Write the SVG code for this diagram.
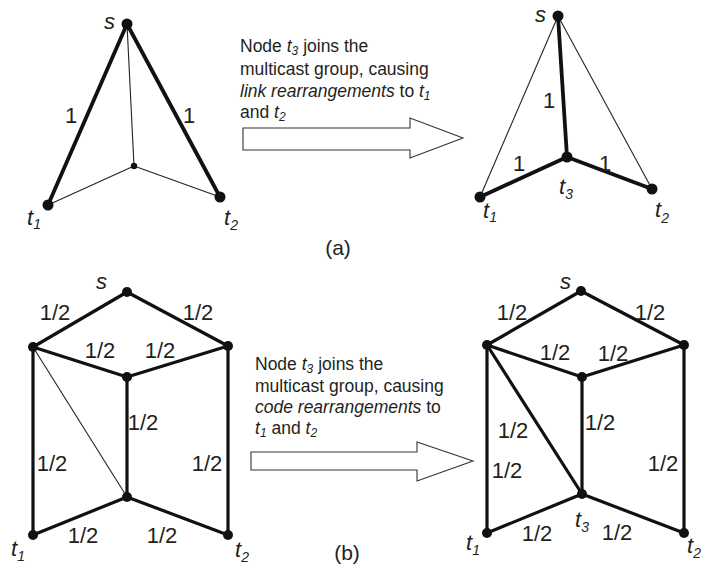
<svg xmlns="http://www.w3.org/2000/svg" width="703" height="566" viewBox="0 0 703 566">
<style>
text{font-family:"Liberation Sans",Arial,sans-serif;fill:#231f20}
.w{font-size:22px;text-anchor:middle}
.w1{font-size:22px;text-anchor:middle}
.n{font-size:22px;font-style:italic}
.sub{font-size:14px;font-style:italic}
.cap{font-size:17.5px}
.csub{font-size:12px;font-style:italic}
.thick{stroke:#111;stroke-width:3.8;fill:none;stroke-linecap:round}
.med{stroke:#111;stroke-width:3.2;fill:none;stroke-linecap:round}
.thin{stroke:#222;stroke-width:1.1;fill:none}
.dot{fill:#111}
.arrow{fill:#fff;stroke:#333;stroke-width:1.1}
.fig{font-size:21px;text-anchor:middle}
</style>
<rect width="703" height="566" fill="#fff"/>

<!-- (a) left -->
<g id="a-left-edges">
<line class="thick" x1="127" y1="24" x2="48" y2="205"/>
<line class="thick" x1="127" y1="24" x2="220" y2="197"/>
<line class="thin" x1="127" y1="24" x2="134" y2="166"/>
<line class="thin" x1="48" y1="205" x2="134" y2="166"/>
<line class="thin" x1="220" y1="197" x2="134" y2="166"/>
<text class="w1" x="71" y="123">1</text>
<text class="w1" x="189" y="123">1</text>
</g>
<g id="a-left-s"><circle class="dot" cx="127" cy="24" r="5.5"/><text class="n" x="104" y="29">s</text></g>
<g id="a-left-t1"><circle class="dot" cx="48" cy="205" r="5.5"/><text class="n" x="27" y="225">t<tspan class="sub" dy="4">1</tspan></text></g>
<g id="a-left-t2"><circle class="dot" cx="220" cy="197" r="5.5"/><text class="n" x="224" y="225">t<tspan class="sub" dy="5">2</tspan></text></g>
<g id="a-left-c"><circle class="dot" cx="134" cy="166" r="3.2"/></g>

<!-- (a) arrow -->
<g id="a-arrow">
<polygon class="arrow" points="243,128 410,128 410,118 463,138 410,158 410,150 243,150"/>
<text class="cap" x="240" y="52">Node <tspan font-style="italic">t</tspan><tspan class="csub" dy="3">3</tspan><tspan dy="-3"> joins the</tspan></text>
<text class="cap" x="240" y="75">multicast group, causing</text>
<text class="cap" x="240" y="97"><tspan font-style="italic">link rearrangements</tspan> to <tspan font-style="italic">t</tspan><tspan class="csub" dy="3">1</tspan></text>
<text class="cap" x="240" y="118">and <tspan font-style="italic">t</tspan><tspan class="csub" dy="3">2</tspan></text>
</g>

<!-- (a) right -->
<g id="a-right-edges">
<line class="thin" x1="558" y1="16" x2="480" y2="197"/>
<line class="thin" x1="558" y1="16" x2="652" y2="189"/>
<line class="thick" x1="558" y1="16" x2="567" y2="157"/>
<line class="thick" x1="480" y1="197" x2="567" y2="157"/>
<line class="thick" x1="652" y1="189" x2="567" y2="157"/>
<text class="w" x="549" y="108">1</text>
<text class="w" x="519" y="171">1</text>
<text class="w" x="605" y="171">1</text>
</g>
<g id="a-right-s"><circle class="dot" cx="558" cy="16" r="5.5"/><text class="n" x="535" y="22">s</text></g>
<g id="a-right-t3"><circle class="dot" cx="567" cy="157" r="5.5"/><text class="n" x="559" y="194">t<tspan class="sub" dy="5">3</tspan></text></g>
<g id="a-right-t1"><circle class="dot" cx="480" cy="197" r="5.5"/><text class="n" x="483" y="218">t<tspan class="sub" dy="4">1</tspan></text></g>
<g id="a-right-t2"><circle class="dot" cx="652" cy="189" r="5.5"/><text class="n" x="655" y="217">t<tspan class="sub" dy="6">2</tspan></text></g>

<text class="fig" x="338" y="255">(a)</text>

<!-- (b) left -->
<g id="b-left-edges">
<line class="med" x1="127" y1="292" x2="33" y2="347"/>
<line class="med" x1="127" y1="292" x2="228" y2="346"/>
<line class="med" x1="33" y1="347" x2="127" y2="377"/>
<line class="med" x1="228" y1="346" x2="127" y2="377"/>
<line class="med" x1="33" y1="347" x2="33" y2="535"/>
<line class="thin" x1="33" y1="347" x2="127" y2="497"/>
<line class="med" x1="127" y1="377" x2="127" y2="497"/>
<line class="med" x1="228" y1="346" x2="228" y2="535"/>
<line class="med" x1="33" y1="535" x2="127" y2="497"/>
<line class="med" x1="228" y1="535" x2="127" y2="497"/>
<text class="w" x="55" y="320">1/2</text>
<text class="w" x="198" y="320">1/2</text>
<text class="w" x="100" y="358">1/2</text>
<text class="w" x="160" y="358">1/2</text>
<text class="w" x="143" y="430">1/2</text>
<text class="w" x="52" y="471">1/2</text>
<text class="w" x="207" y="471">1/2</text>
<text class="w" x="83" y="543">1/2</text>
<text class="w" x="162" y="543">1/2</text>
</g>
<g id="b-left-s"><circle class="dot" cx="127" cy="292" r="5"/><text class="n" x="96" y="289">s</text></g>
<g id="b-left-a"><circle class="dot" cx="33" cy="347" r="5"/></g>
<g id="b-left-b"><circle class="dot" cx="228" cy="346" r="5"/></g>
<g id="b-left-m"><circle class="dot" cx="127" cy="377" r="5"/></g>
<g id="b-left-c"><circle class="dot" cx="127" cy="497" r="5"/></g>
<g id="b-left-t1"><circle class="dot" cx="33" cy="535" r="5"/><text class="n" x="11" y="556">t<tspan class="sub" dy="5">1</tspan></text></g>
<g id="b-left-t2"><circle class="dot" cx="228" cy="535" r="5"/><text class="n" x="235" y="557">t<tspan class="sub" dy="5">2</tspan></text></g>

<!-- (b) arrow -->
<g id="b-arrow">
<polygon class="arrow" points="251,452 417,452 417,442 473,461 417,481 417,470 251,470"/>
<text class="cap" x="255" y="370">Node <tspan font-style="italic">t</tspan><tspan class="csub" dy="3">3</tspan><tspan dy="-3"> joins the</tspan></text>
<text class="cap" x="255" y="392">multicast group, causing</text>
<text class="cap" x="255" y="413"><tspan font-style="italic">code rearrangements</tspan> to</text>
<text class="cap" x="255" y="434"><tspan font-style="italic">t</tspan><tspan class="csub" dy="3">1</tspan><tspan dy="-3"> and </tspan><tspan font-style="italic">t</tspan><tspan class="csub" dy="3">2</tspan></text>
</g>

<!-- (b) right -->
<g id="b-right-edges">
<line class="med" x1="581" y1="291" x2="487" y2="345"/>
<line class="med" x1="581" y1="291" x2="684" y2="345"/>
<line class="med" x1="487" y1="345" x2="582" y2="377"/>
<line class="med" x1="684" y1="345" x2="582" y2="377"/>
<line class="med" x1="487" y1="345" x2="487" y2="533"/>
<line class="med" x1="487" y1="345" x2="582" y2="494"/>
<line class="med" x1="582" y1="377" x2="582" y2="494"/>
<line class="med" x1="684" y1="345" x2="684" y2="533"/>
<line class="med" x1="487" y1="533" x2="582" y2="494"/>
<line class="med" x1="684" y1="533" x2="582" y2="494"/>
<text class="w" x="512" y="320">1/2</text>
<text class="w" x="650" y="320">1/2</text>
<text class="w" x="555" y="360">1/2</text>
<text class="w" x="613" y="361">1/2</text>
<text class="w" x="600" y="430">1/2</text>
<text class="w" x="513" y="438">1/2</text>
<text class="w" x="507" y="478">1/2</text>
<text class="w" x="663" y="471">1/2</text>
<text class="w" x="537" y="541">1/2</text>
<text class="w" x="617" y="540">1/2</text>
</g>
<g id="b-right-s"><circle class="dot" cx="581" cy="291" r="5"/><text class="n" x="560" y="289">s</text></g>
<g id="b-right-a"><circle class="dot" cx="487" cy="345" r="5"/></g>
<g id="b-right-b"><circle class="dot" cx="684" cy="345" r="5"/></g>
<g id="b-right-m"><circle class="dot" cx="582" cy="377" r="5"/></g>
<g id="b-right-t3"><circle class="dot" cx="582" cy="494" r="5"/><text class="n" x="575" y="527">t<tspan class="sub" dy="5">3</tspan></text></g>
<g id="b-right-t1"><circle class="dot" cx="487" cy="533" r="5"/><text class="n" x="466" y="550">t<tspan class="sub" dy="5">1</tspan></text></g>
<g id="b-right-t2"><circle class="dot" cx="684" cy="533" r="5"/><text class="n" x="687" y="553">t<tspan class="sub" dy="5">2</tspan></text></g>

<text class="fig" x="347" y="560">(b)</text>
</svg>
